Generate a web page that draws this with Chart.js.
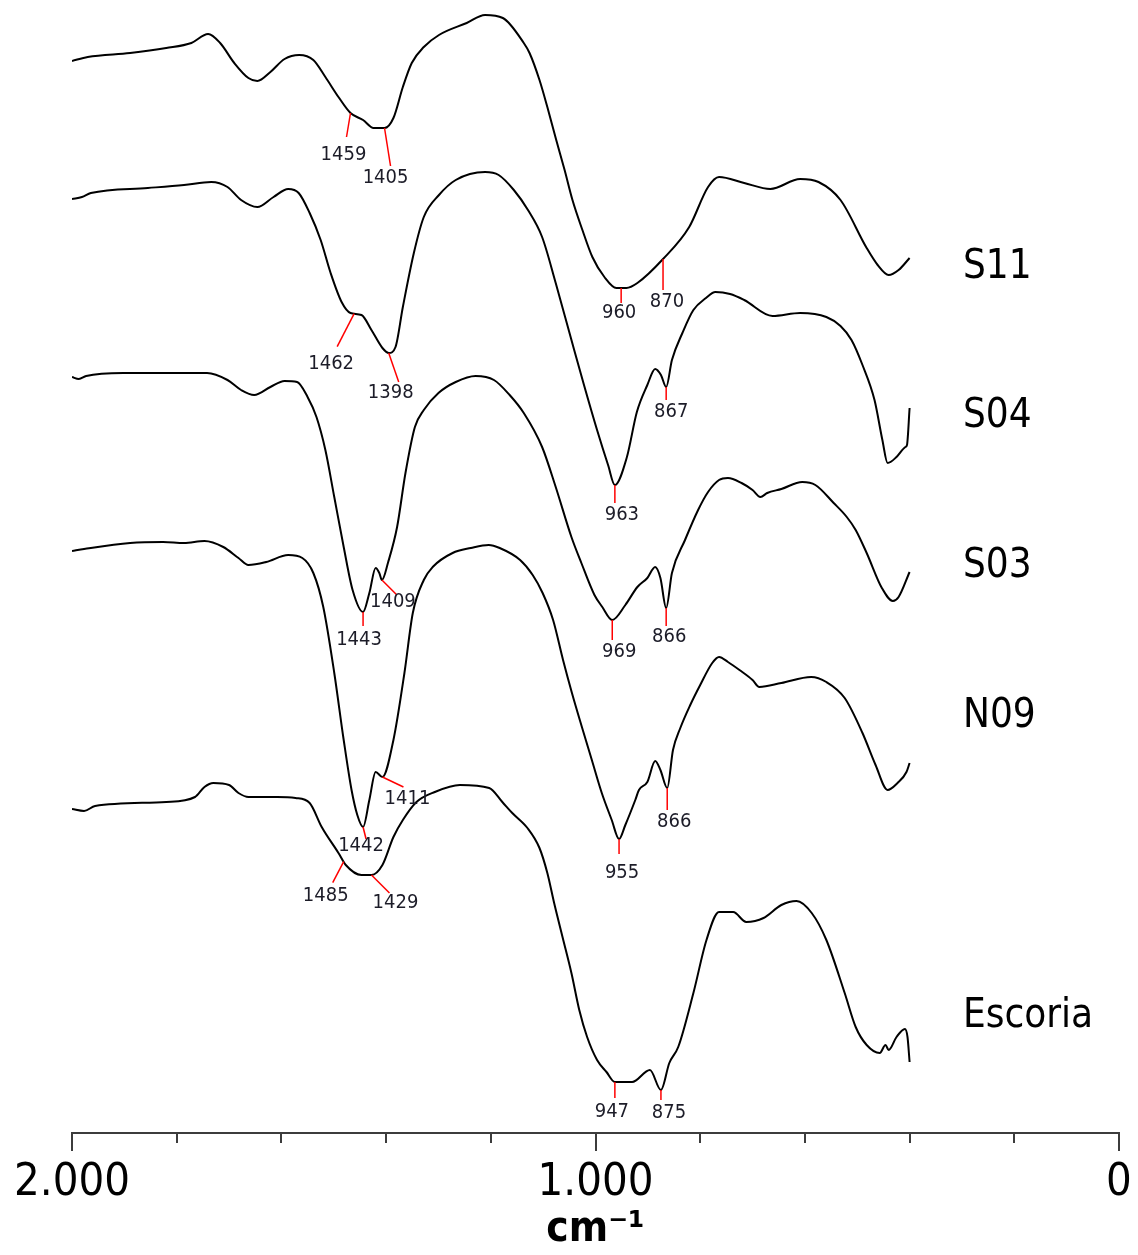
<!DOCTYPE html>
<html>
<head>
<meta charset="utf-8">
<title>FTIR</title>
<script src="https://cdn.jsdelivr.net/npm/chart.js@4.4.0/dist/chart.umd.min.js"></script>
<style>
  html, body { margin: 0; padding: 0; background: #fff; }
  canvas { display: block; }
</style>
</head>
<body>
<canvas id="ftir" width="1138" height="1255"></canvas>
<script>
// ---- spectra (wavenumber cm-1, offset transmittance a.u.) ----
const seriesNames = ['S11', 'S04', 'S03', 'N09', 'Escoria'];

const s11Wn = [2000,1970,1889,1820,1772,1740,1717,1690,1663,1646,1621,1594,1566,1539,1516,1491,1468,1444,1424,1403,1386,1368,1351,1328,1299,1246,1211,1177,1137,1126,1107,1092,1075,1059,1044,1025,1006,983,960,941,920,871,821,785,764,716,666,609,574,532,482,461,440,421,400];
const s11Y  = [1072,1076,1080,1085,1090,1099,1090,1070,1055,1052,1061,1074,1078,1073,1056,1036,1020,1013,1005,1005,1015,1046,1070,1086,1098,1110,1118,1115,1090,1080,1053,1026,993,963,933,903,876,856,845,845,850,874,906,946,956,950,944,954,951,933,885,868,858,863,875];

const s04Wn = [2000,1981,1964,1855,1786,1734,1703,1677,1646,1615,1587,1567,1546,1525,1506,1485,1468,1447,1428,1407,1395,1382,1368,1347,1328,1299,1267,1211,1185,1156,1129,1102,1076,1047,1022,997,976,963,940,921,901,886,875,865,854,834,813,789,771,743,716,662,609,559,532,511,490,467,452,442,425,408,405,400];
const s04Y  = [934,936,940,945,948,951,946,933,926,936,944,940,920,893,860,831,820,818,803,785,780,786,826,880,916,938,953,961,958,943,923,896,850,795,748,703,668,648,676,721,748,764,758,746,773,800,823,835,841,839,833,817,820,816,807,793,768,733,693,670,676,686,688,725];

const s03Wn = [2000,1987,1973,1902,1786,1742,1703,1677,1652,1621,1594,1570,1550,1533,1516,1499,1481,1464,1444,1432,1420,1413,1408,1396,1379,1363,1345,1328,1300,1267,1229,1194,1164,1137,1102,1076,1046,1027,1002,987,968,943,920,901,886,876,865,854,829,804,785,764,747,721,700,685,672,645,605,580,545,520,503,482,453,432,421,400];
const s03Y  = [756,754,757,760,760,760,753,743,738,746,752,751,736,716,683,636,586,543,521,540,565,560,553,571,606,660,706,723,740,751,757,753,738,720,686,646,596,570,538,526,513,528,546,555,566,555,525,560,593,623,641,653,655,650,643,636,640,644,651,648,630,616,603,580,545,532,536,561];

const n09Wn = [2000,1977,1889,1826,1786,1747,1711,1682,1663,1629,1587,1560,1539,1520,1499,1481,1466,1455,1444,1432,1420,1407,1386,1365,1349,1328,1311,1273,1238,1204,1183,1144,1120,1101,1081,1062,1045,1026,1007,988,969,955,943,924,917,901,886,876,863,852,838,819,800,777,764,747,725,700,687,645,588,559,524,490,465,442,423,406,400];
const n09Y  = [582,584,590,591,590,592,586,575,568,571,578,575,560,526,460,393,343,318,306,333,361,356,393,460,520,553,566,580,585,588,585,573,558,540,513,473,440,406,373,340,313,294,308,333,343,351,372,363,345,383,405,428,448,470,476,471,463,453,446,450,456,451,435,400,368,343,350,361,370];

const escWn = [2000,1977,1956,1820,1765,1747,1730,1700,1682,1663,1608,1573,1546,1523,1491,1477,1447,1428,1407,1386,1368,1342,1307,1259,1203,1178,1159,1130,1107,1092,1079,1063,1046,1031,1016,997,979,963,930,896,875,859,842,813,788,764,737,712,679,645,616,587,559,524,503,482,457,446,440,425,409,404,400];
const escY  = [324,322,327,331,336,346,350,348,340,336,336,335,330,306,280,268,258,258,268,296,313,331,341,348,345,331,320,305,285,260,230,196,160,123,96,73,61,51,51,63,43,70,86,140,193,221,221,211,215,228,232,220,193,140,106,88,80,88,83,96,104,96,71];

const seriesWn = [s11Wn, s04Wn, s03Wn, n09Wn, escWn];
const seriesY = [s11Y, s04Y, s03Y, n09Y, escY];

// ---- band labels ----
const peakSeries = [0,0,0,0, 1,1,1,1, 2,2,2,2, 3,3,3,3, 4,4,4,4];
const peakLabels = ['1459','1405','960','870', '1462','1398','963','867', '1443','1409','969','866', '1442','1411','955','866', '1485','1429','947','875'];
const peakAt = [1468,1403,951,871, 1461,1395,963,865, 1444,1408,968,865, 1444,1407,955,863, 1481,1428,963,875];

// x axis ticks
const tickStep = 200;
const majorStep = 1000;

// ---- layout (px offsets, not data) ----
// leader: [dx, dy] from the curve to line end, [lx, ly] from line end to text centre
const leaderLayout = [
  [-4,24,-3,18], [6,38,-5,12], [0,15,-2,10], [0,31,4,12],
  [-17,33,-6,17], [10,29,-8,11], [0,18,7,12], [0,13,5,12],
  [0,14,-4,14], [15,15,-4,7], [0,20,7,12], [0,18,3,11],
  [3,12,-5,7], [21,10,4,12], [0,15,3,19], [0,22,7,12],
  [-11,21,-7,13], [18,18,6,10], [0,16,-3,14], [0,10,8,13]
];
const nameWn = 298;
const nameY = [865, 716, 566, 416, 116];

const FONT = "'DejaVu Sans Condensed', 'DejaVu Sans', sans-serif";

function yAt(xs, ys, w) {
  for (let i = 0; i < xs.length - 1; i++) {
    if (w <= xs[i] && w >= xs[i + 1]) {
      const t = (xs[i] - w) / (xs[i] - xs[i + 1]);
      return ys[i] + t * (ys[i + 1] - ys[i]);
    }
  }
  return ys[ys.length - 1];
}

function fmtTick(v) {
  return v === 0 ? '0' : (v / 1000) + '.000';
}

// tick marks, long at 0 / 1000 / 2000
const tickMarks = {
  id: 'tickMarks',
  afterDraw(chart) {
    const { ctx, chartArea } = chart;
    const x = chart.scales.x;
    ctx.save();
    ctx.strokeStyle = '#3c3c3c';
    ctx.lineWidth = 2;
    x.ticks.forEach(t => {
      const px = Math.round(x.getPixelForValue(t.value));
      const len = t.value % majorStep === 0 ? 18 : 10;
      ctx.beginPath();
      ctx.moveTo(px, chartArea.bottom);
      ctx.lineTo(px, chartArea.bottom + len);
      ctx.stroke();
    });
    ctx.restore();
  }
};

// red leaders + band numbers + sample names
const annotate = {
  id: 'annotate',
  afterDatasetsDraw(chart) {
    const { ctx } = chart;
    const x = chart.scales.x, y = chart.scales.y;
    ctx.save();
    ctx.lineWidth = 1.5;
    ctx.strokeStyle = '#ff0000';
    ctx.fillStyle = '#1c1c28';
    ctx.font = '20px ' + FONT;
    ctx.textAlign = 'center';
    ctx.textBaseline = 'middle';
    peakLabels.forEach((txt, k) => {
      const s = peakSeries[k];
      const sx = x.getPixelForValue(peakAt[k]);
      const sy = y.getPixelForValue(yAt(seriesWn[s], seriesY[s], peakAt[k]));
      const [dx, dy, lx, ly] = leaderLayout[k];
      ctx.beginPath();
      ctx.moveTo(sx, sy);
      ctx.lineTo(sx + dx, sy + dy);
      ctx.stroke();
      ctx.fillText(txt, sx + dx + lx, sy + dy + ly);
    });

    ctx.fillStyle = '#000';
    ctx.font = '40px ' + FONT;
    ctx.textAlign = 'left';
    seriesNames.forEach((n, i) => {
      ctx.fillText(n, x.getPixelForValue(nameWn), y.getPixelForValue(nameY[i]));
    });
    ctx.restore();
  }
};

const datasets = seriesNames.map((name, i) => ({
  label: name,
  data: seriesWn[i].map((w, j) => ({ x: w, y: seriesY[i][j] })),
  borderColor: '#000',
  borderWidth: 2,
  pointRadius: 0,
  fill: false,
  cubicInterpolationMode: 'monotone'
}));

new Chart(document.getElementById('ftir'), {
  type: 'line',
  data: { datasets },
  options: {
    responsive: false,
    animation: false,
    devicePixelRatio: 1,
    layout: { padding: { left: 72, right: 19, top: 0, bottom: 0 } },
    plugins: {
      legend: { display: false },
      tooltip: { enabled: false }
    },
    scales: {
      x: {
        type: 'linear',
        reverse: true,
        min: 0,
        max: 2000,
        grid: { display: false, drawTicks: true, tickLength: 18 },
        border: { display: true, color: '#3c3c3c', width: 2 },
        ticks: {
          stepSize: tickStep,
          autoSkip: false,
          maxRotation: 0,
          padding: 5,
          color: '#000',
          font: { family: FONT, size: 45 },
          callback: v => (v % majorStep === 0 ? fmtTick(v) : '')
        },
        title: {
          display: true,
          text: 'cm⁻¹',
          color: '#000',
          font: { family: FONT, size: 42, weight: 'bold' },
          padding: { top: 0, bottom: 0 }
        },
        afterFit(scale) { scale.height = 122; }
      },
      y: { type: 'linear', display: false, min: 0, max: 1133 }
    }
  },
  plugins: [tickMarks, annotate]
});
</script>
</body>
</html>
